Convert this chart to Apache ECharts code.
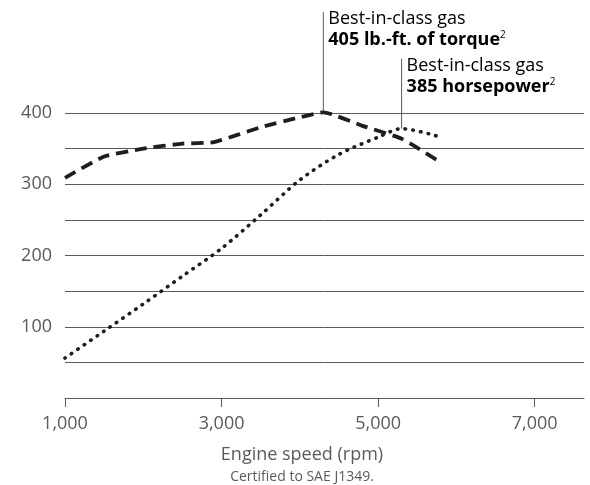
<!DOCTYPE html>
<html>
<head>
<meta charset="utf-8">
<script src="https://cdn.jsdelivr.net/npm/echarts@6/dist/echarts.min.js"></script>
<style>
  html, body { margin: 0; padding: 0; background: #fff; }
  #chart { width: 590px; height: 485px; }
</style>
</head>
<body>
<div id="chart"></div>
<script>
const torqueRpm = [1000, 1500, 2000, 2500, 2900, 3500, 4000, 4300, 4800, 5300, 5750];
const torque = [309, 339, 350, 357, 359, 380, 394, 401, 382, 364, 334];
const hpRpm = [1000, 1500, 2000, 2500, 3000, 3500, 4000, 4500, 5000, 5300, 5800];
const horsepower = [56, 94, 132, 171, 210, 257, 306, 342, 366, 378, 366];
const xTicks = [1000, 3000, 5000, 7000];
const yTicks = [0, 50, 100, 150, 200, 250, 300, 350, 400];
const yLabels = [100, 200, 300, 400];

// callouts: rpm and value at the peak, value at the top of the leader line
const callouts = [
  { rpm: 4300, peak: 401, top: 542, line1: "Best-in-class gas", line2: "405 lb.-ft. of torque" },
  { rpm: 5300, peak: 378, top: 476, line1: "Best-in-class gas", line2: "385 horsepower" }
];

const font = "'Open Sans', 'Noto Sans', sans-serif";
const grey = "#5a5a5a";

const chart = echarts.init(document.getElementById("chart"), null, { renderer: "canvas" });

chart.setOption({
  animation: false,
  grid: { left: 65, right: 6, top: 113, bottom: 87 },
  xAxis: {
    type: "value",
    min: 1000,
    max: 7630,
    axisLine: { show: true, lineStyle: { color: grey, width: 1 } },
    axisTick: { show: true, customValues: xTicks, length: 9, lineStyle: { color: grey } },
    axisLabel: {
      customValues: xTicks,
      margin: 17,
      color: grey,
      fontFamily: font,
      fontSize: 18,
      formatter: (v) => v.toLocaleString("en-US")
    },
    splitLine: { show: false }
  },
  yAxis: {
    type: "value",
    min: 0,
    max: 400,
    axisLine: { show: false },
    axisTick: { show: false, customValues: yTicks },
    axisLabel: {
      customValues: yLabels,
      margin: 13,
      color: grey,
      fontFamily: font,
      fontSize: 18
    },
    splitLine: { show: true, lineStyle: { color: grey, width: 1 } }
  },
  series: [
    {
      name: "Torque",
      type: "line",
      data: torqueRpm.map((r, i) => [r, torque[i]]),
      showSymbol: false,
      clip: false,
      smooth: 0.15,
      lineStyle: { color: "#1e1e1e", width: 3.8, type: [12, 7] }
    },
    {
      name: "Horsepower",
      type: "line",
      data: hpRpm.map((r, i) => [r, horsepower[i]]),
      showSymbol: false,
      clip: false,
      smooth: 0.3,
      lineStyle: { color: "#1e1e1e", width: 3.6, type: [0.5, 7.3], cap: "round" }
    }
  ]
});

// leader lines and callout text, placed through the chart's own scales
const graphics = [];
callouts.forEach((c) => {
  const p0 = chart.convertToPixel({ gridIndex: 0 }, [c.rpm, c.peak]);
  const p1 = chart.convertToPixel({ gridIndex: 0 }, [c.rpm, c.top]);
  graphics.push({
    type: "line",
    shape: { x1: p0[0], y1: p0[1], x2: p1[0], y2: p1[1] },
    style: { stroke: grey, lineWidth: 1 },
    z: 1
  });
  graphics.push({
    type: "text",
    x: p1[0] + 5,
    y: p1[1] - 3,
    style: {
      text: "{a|" + c.line1 + "}\n{b|" + c.line2 + "}{s|2}",
      rich: {
        a: { fontFamily: font, fontSize: 18, color: grey, lineHeight: 21 },
        b: { fontFamily: font, fontSize: 18, fontWeight: "bold", color: "#444", lineHeight: 21 },
        s: { fontFamily: font, fontSize: 10, color: "#444", verticalAlign: "top", lineHeight: 21 }
      }
    }
  });
});

graphics.push({
  type: "text",
  x: 302,
  y: 455,
  style: {
    text: "Engine speed (rpm)",
    fontFamily: font,
    fontSize: 18,
    fill: grey,
    align: "center",
    verticalAlign: "middle"
  }
});
graphics.push({
  type: "text",
  x: 302,
  y: 477,
  style: {
    text: "Certified to SAE J1349.",
    fontFamily: font,
    fontSize: 14,
    fill: grey,
    align: "center",
    verticalAlign: "middle"
  }
});

chart.setOption({ graphic: graphics });
</script>
</body>
</html>
